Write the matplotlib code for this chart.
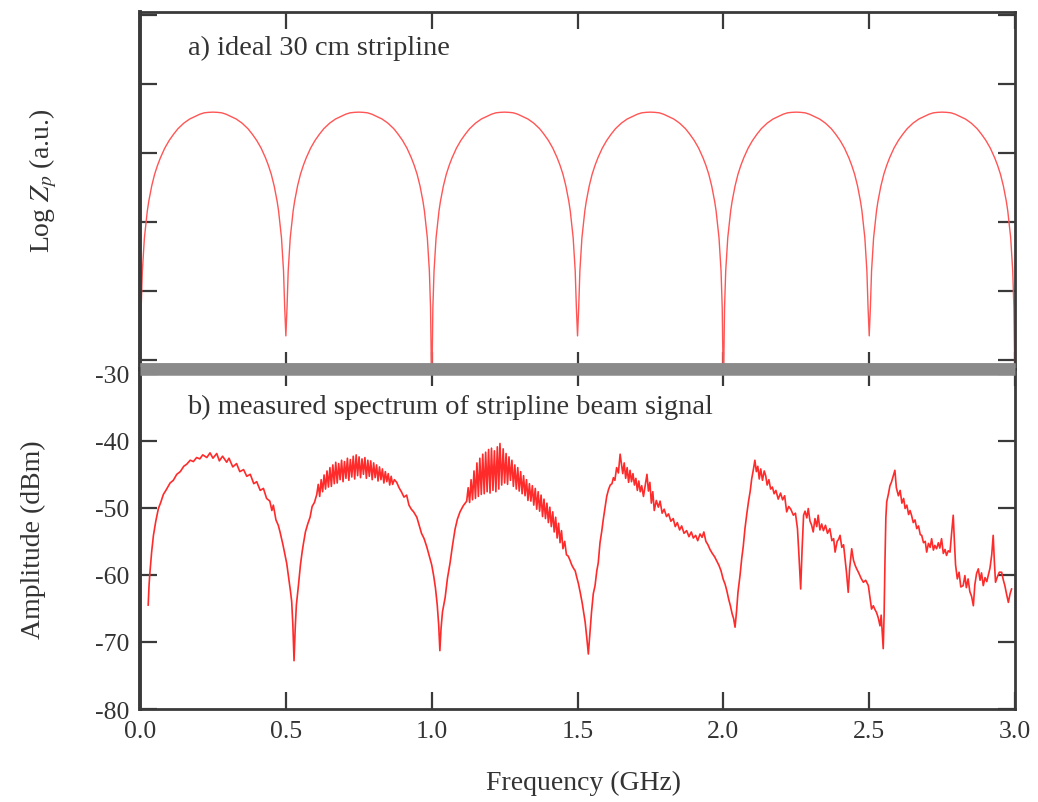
import matplotlib
matplotlib.use('Agg')
import matplotlib.pyplot as plt

plt.rcParams['font.family'] = ['Liberation Serif', 'DejaVu Serif']
plt.rcParams['mathtext.fontset'] = 'stix'

# x axis (GHz) and y ticks
freq_ticks = [0.0, 0.5, 1.0, 1.5, 2.0, 2.5, 3.0]
amp_ticks = [-30, -40, -50, -60, -70, -80]
top_ticks = [0, 1, 2, 3, 4, 5]

# a) ideal stripline, log Zp in arbitrary units, read off one lobe (every lobe is the same)
arch_starts = [0.0, 0.5, 1.0, 1.5, 2.0, 2.5]
arch_offsets = [0.004, 0.008, 0.015, 0.025, 0.03, 0.04, 0.05, 0.06, 0.07, 0.085, 0.1,
                0.115, 0.13, 0.15, 0.17, 0.19, 0.205, 0.22, 0.235, 0.25, 0.265, 0.28,
                0.295, 0.31, 0.33, 0.35, 0.37, 0.385, 0.4, 0.415, 0.43, 0.44, 0.45,
                0.46, 0.47, 0.475, 0.485, 0.492, 0.496]
arch_levels = [0.76, 1.29, 1.77, 2.16, 2.30, 2.52, 2.69, 2.82, 2.93, 3.07, 3.18,
               3.27, 3.35, 3.43, 3.49, 3.53, 3.56, 3.58, 3.587, 3.59, 3.587, 3.58,
               3.56, 3.53, 3.49, 3.43, 3.35, 3.27, 3.18, 3.07, 2.93, 2.82, 2.69,
               2.52, 2.30, 2.16, 1.77, 1.29, 0.76]
null_freq = [0.0, 0.5, 1.0, 1.5, 2.0, 2.5, 3.0]
null_level = [-0.5, 0.35, -0.5, 0.35, -0.5, 0.35, -0.5]

# b) measured spectrum (GHz, dBm), one list per lobe
lobe1 = [(0.028, -64.5), (0.031, -61.5), (0.034, -59.6), (0.040, -56.5), (0.046, -54.1),
         (0.054, -52.0), (0.063, -50.1), (0.071, -49.2), (0.080, -48.0), (0.090, -47.3),
         (0.103, -46.3), (0.114, -45.9), (0.126, -45.0), (0.138, -44.6), (0.150, -43.8),
         (0.160, -43.5), (0.172, -42.9), (0.183, -43.1), (0.194, -42.5), (0.205, -42.7),
         (0.215, -42.1), (0.229, -42.5), (0.240, -41.8), (0.250, -42.6), (0.263, -41.9),
         (0.272, -43.0), (0.283, -42.3), (0.297, -43.2), (0.305, -42.6), (0.318, -43.9),
         (0.331, -43.4), (0.342, -44.6), (0.355, -44.3), (0.366, -45.3), (0.378, -45.0),
         (0.390, -46.4), (0.400, -46.1), (0.412, -47.4), (0.423, -47.1), (0.434, -48.6),
         (0.445, -49.0), (0.452, -50.4), (0.457, -49.6), (0.466, -51.8), (0.474, -52.6),
         (0.480, -53.6), (0.490, -55.5), (0.497, -57.0), (0.503, -58.3), (0.510, -60.5),
         (0.516, -62.5), (0.520, -64.0), (0.524, -67.5), (0.528, -72.8)]
lobe2 = [(0.532, -68.0), (0.536, -64.5), (0.543, -61.6), (0.550, -58.5), (0.556, -56.5),
         (0.560, -55.4), (0.567, -53.6), (0.575, -52.4), (0.583, -51.4), (0.590, -49.8),
         (0.598, -49.2), (0.606, -48.0), (0.611, -46.5), (0.616, -48.3), (0.621, -45.8),
         (0.626, -47.6), (0.631, -45.1), (0.636, -47.2), (0.641, -44.5), (0.646, -46.9),
         (0.651, -44.0), (0.656, -46.8), (0.661, -43.6), (0.666, -46.4), (0.671, -43.2),
         (0.676, -46.3), (0.681, -43.4), (0.686, -45.8), (0.691, -42.9), (0.696, -46.1),
         (0.701, -43.1), (0.706, -45.6), (0.711, -42.6), (0.716, -45.9), (0.721, -42.8),
         (0.726, -45.4), (0.731, -42.3), (0.736, -45.7), (0.741, -42.1), (0.746, -45.2),
         (0.751, -42.4), (0.756, -45.5), (0.761, -42.7), (0.766, -45.0), (0.771, -42.5),
         (0.776, -45.6), (0.781, -42.9), (0.786, -45.3), (0.791, -43.0), (0.796, -45.8),
         (0.801, -43.3), (0.806, -45.5), (0.811, -43.6), (0.816, -46.0), (0.821, -43.9),
         (0.826, -45.8), (0.831, -44.2), (0.836, -46.3), (0.841, -44.6), (0.846, -46.1),
         (0.851, -44.9), (0.856, -46.6), (0.861, -45.3), (0.866, -46.5), (0.872, -45.8),
         (0.880, -46.2), (0.888, -47.0), (0.896, -47.6), (0.905, -48.4), (0.914, -48.1),
         (0.922, -49.6), (0.930, -50.2), (0.938, -50.6), (0.949, -51.4), (0.957, -52.6),
         (0.965, -53.8), (0.974, -54.6), (0.983, -55.8), (0.992, -57.2), (1.000, -58.5),
         (1.007, -60.2), (1.013, -62.0), (1.019, -64.5), (1.024, -67.5), (1.028, -71.3)]
lobe3 = [(1.032, -68.0), (1.037, -65.5), (1.046, -63.4), (1.054, -60.5), (1.063, -58.2),
         (1.071, -55.7), (1.080, -53.2), (1.088, -51.7), (1.097, -50.6), (1.108, -49.7),
         (1.120, -49.0), (1.125, -47.0), (1.130, -49.2), (1.135, -45.8), (1.140, -48.8),
         (1.145, -44.5), (1.150, -48.6), (1.155, -43.3), (1.160, -48.3), (1.165, -42.6),
         (1.170, -48.0), (1.175, -42.0), (1.180, -47.9), (1.185, -41.7), (1.190, -47.6),
         (1.195, -41.3), (1.200, -47.8), (1.205, -41.1), (1.210, -47.4), (1.215, -41.5),
         (1.220, -47.6), (1.225, -40.9), (1.230, -47.2), (1.234, -40.4), (1.240, -46.6),
         (1.245, -41.2), (1.250, -46.3), (1.255, -41.9), (1.260, -46.5), (1.265, -42.4),
         (1.270, -45.9), (1.275, -42.9), (1.280, -46.8), (1.285, -43.6), (1.290, -47.2),
         (1.295, -44.0), (1.300, -47.5), (1.305, -44.6), (1.310, -47.9), (1.315, -45.2),
         (1.320, -48.2), (1.325, -45.8), (1.330, -48.9), (1.335, -46.4), (1.340, -49.0),
         (1.345, -46.7), (1.350, -49.6), (1.355, -47.1), (1.360, -50.2), (1.365, -47.6),
         (1.370, -50.5), (1.375, -48.1), (1.380, -51.3), (1.385, -48.7), (1.390, -51.6),
         (1.395, -49.3), (1.400, -52.2), (1.405, -49.9), (1.410, -52.8), (1.415, -50.6),
         (1.420, -53.6), (1.425, -51.4), (1.430, -54.5), (1.435, -52.3), (1.440, -55.2),
         (1.445, -53.4), (1.450, -56.1), (1.456, -55.0), (1.462, -57.0), (1.468, -57.2),
         (1.474, -57.8), (1.480, -58.5), (1.486, -59.0), (1.492, -59.4), (1.497, -60.3),
         (1.503, -61.3), (1.510, -62.8), (1.516, -64.2), (1.520, -65.3), (1.526, -67.0),
         (1.532, -69.5), (1.537, -71.8)]
lobe4 = [(1.542, -69.0), (1.548, -65.5), (1.554, -62.8), (1.560, -61.6), (1.566, -59.4),
         (1.571, -58.2), (1.577, -55.2), (1.583, -53.5), (1.588, -51.8), (1.594, -50.0),
         (1.600, -48.3), (1.606, -47.3), (1.612, -46.6), (1.618, -46.4), (1.623, -45.5),
         (1.628, -45.9), (1.634, -44.0), (1.640, -44.8), (1.646, -42.0), (1.651, -43.6),
         (1.655, -44.9), (1.660, -43.3), (1.665, -45.6), (1.670, -44.0), (1.675, -46.2),
         (1.680, -44.4), (1.685, -46.1), (1.690, -44.9), (1.695, -46.6), (1.700, -45.6),
         (1.705, -47.4), (1.710, -46.0), (1.715, -47.6), (1.720, -46.7), (1.726, -48.3),
         (1.732, -46.6), (1.738, -45.0), (1.743, -47.5), (1.748, -46.2), (1.753, -49.3),
         (1.758, -47.6), (1.763, -50.4), (1.770, -48.9), (1.777, -49.9), (1.783, -49.0),
         (1.790, -50.8), (1.797, -50.2), (1.805, -51.3), (1.812, -50.9), (1.820, -52.0),
         (1.828, -51.6), (1.835, -52.8), (1.842, -52.2), (1.850, -53.3), (1.857, -52.7),
         (1.865, -53.8), (1.874, -53.4), (1.882, -54.3), (1.890, -53.6), (1.897, -54.5),
         (1.905, -54.1), (1.912, -54.9), (1.920, -53.9), (1.927, -54.4), (1.933, -53.6),
         (1.940, -55.0), (1.947, -55.5), (1.954, -56.2), (1.962, -56.8), (1.970, -57.3),
         (1.978, -58.0), (1.985, -58.6), (1.992, -59.4), (1.999, -60.6), (2.006, -61.4),
         (2.012, -62.4), (2.018, -63.6), (2.024, -64.6), (2.030, -65.8), (2.035, -66.5),
         (2.040, -67.8)]
lobe5 = [(2.045, -65.5), (2.050, -62.6), (2.057, -60.1), (2.063, -57.5), (2.068, -55.8),
         (2.074, -53.1), (2.080, -51.0), (2.086, -49.1), (2.092, -47.5), (2.097, -45.7),
         (2.102, -44.5), (2.108, -42.9), (2.113, -44.6), (2.118, -43.8), (2.123, -45.7),
         (2.128, -44.2), (2.134, -45.9), (2.140, -44.5), (2.145, -45.2), (2.150, -46.6),
         (2.156, -45.8), (2.162, -47.2), (2.168, -46.9), (2.174, -47.9), (2.180, -47.4),
         (2.188, -48.7), (2.196, -47.8), (2.203, -48.8), (2.210, -48.2), (2.217, -50.6),
         (2.224, -49.8), (2.231, -50.2), (2.240, -51.1), (2.247, -50.8), (2.254, -53.1),
         (2.259, -57.0), (2.265, -62.1), (2.270, -56.0), (2.275, -51.1), (2.280, -50.5),
         (2.286, -51.5), (2.291, -50.1), (2.297, -52.0), (2.302, -52.5), (2.308, -53.6),
         (2.314, -51.6), (2.320, -52.8), (2.325, -51.1), (2.331, -53.3), (2.337, -52.4),
         (2.343, -53.4), (2.350, -52.6), (2.357, -53.8), (2.365, -53.1), (2.372, -54.9),
         (2.378, -54.6), (2.383, -56.6), (2.390, -55.0), (2.395, -54.7), (2.400, -54.1),
         (2.406, -55.9), (2.412, -55.5), (2.417, -57.6), (2.422, -59.6), (2.428, -62.6),
         (2.433, -59.0), (2.440, -56.1), (2.446, -57.8), (2.452, -58.6), (2.457, -59.1),
         (2.464, -59.7), (2.472, -60.5), (2.480, -61.1), (2.488, -60.8), (2.497, -61.6),
         (2.503, -63.5), (2.508, -65.1), (2.514, -64.6), (2.520, -65.2), (2.525, -65.6),
         (2.531, -66.4), (2.537, -67.6), (2.541, -66.0), (2.545, -68.8), (2.548, -71.0)]
lobe6 = [(2.551, -66.0), (2.554, -58.0), (2.557, -51.5), (2.560, -49.1), (2.566, -47.9),
         (2.571, -46.7), (2.576, -46.2), (2.582, -45.3), (2.588, -44.4), (2.593, -47.0),
         (2.600, -48.2), (2.606, -47.4), (2.612, -49.3), (2.618, -48.6), (2.623, -50.1),
         (2.629, -49.6), (2.635, -51.0), (2.640, -50.4), (2.645, -51.1), (2.651, -52.2),
         (2.657, -51.8), (2.663, -53.1), (2.669, -52.7), (2.675, -54.0), (2.680, -54.1),
         (2.686, -55.2), (2.692, -55.0), (2.697, -56.6), (2.703, -55.3), (2.709, -55.9),
         (2.714, -54.6), (2.720, -56.3), (2.725, -55.6), (2.731, -56.1), (2.737, -55.2),
         (2.742, -56.0), (2.748, -54.6), (2.754, -56.8), (2.760, -56.2), (2.765, -57.1),
         (2.771, -56.4), (2.777, -56.6), (2.782, -54.0), (2.788, -51.1), (2.792, -55.0),
         (2.796, -58.5), (2.802, -60.6), (2.808, -59.6), (2.814, -61.8), (2.822, -61.6),
         (2.828, -60.1), (2.833, -61.9), (2.839, -60.6), (2.845, -62.5), (2.851, -63.2),
         (2.857, -64.6), (2.862, -61.5), (2.868, -59.8), (2.874, -59.1), (2.880, -60.8),
         (2.885, -59.7), (2.891, -61.6), (2.897, -60.4), (2.903, -61.0), (2.908, -60.1),
         (2.914, -59.0), (2.920, -57.0), (2.925, -54.1), (2.929, -58.0), (2.933, -61.1),
         (2.940, -60.2), (2.946, -59.6), (2.954, -59.6), (2.960, -60.8), (2.965, -61.6),
         (2.971, -62.9), (2.977, -64.1), (2.983, -62.8), (2.988, -62.1)]

# ---- build the ideal curve from the read lobe
ideal_f = []
ideal_z = []
for i, start in enumerate(arch_starts):
    ideal_f.append(null_freq[i])
    ideal_z.append(null_level[i])
    for off, lev in zip(arch_offsets, arch_levels):
        ideal_f.append(start + off)
        ideal_z.append(lev)
ideal_f.append(null_freq[-1])
ideal_z.append(null_level[-1])

spec = lobe1 + lobe2 + lobe3 + lobe4 + lobe5 + lobe6
spec_f = [p[0] for p in spec]
spec_a = [p[1] for p in spec]

txt = '#333333'
spine_c = '#3a3a3a'

fig = plt.figure(figsize=(10.38, 8.03), dpi=100)
ax1 = fig.add_axes([0.1349, 0.5392, 0.843, 0.4446])
ax2 = fig.add_axes([0.1349, 0.1158, 0.843, 0.4234])

ax1.plot(ideal_f, ideal_z, color='#ff5555', lw=1.0)
ax1.set_xlim(0, 3)
ax1.set_ylim(-0.13, 5.04)
ax1.set_xticks(freq_ticks)
ax1.set_yticks(top_ticks)
ax1.tick_params(labelbottom=False, labelleft=False)
ax1.text(0.055, 0.902, 'a) ideal 30 cm stripline', transform=ax1.transAxes,
         fontsize=20.5, color=txt, va='center', ha='left')

ax2.plot(spec_f, spec_a, color='#ff2a2a', lw=1.2)
ax2.set_xlim(0, 3)
ax2.set_ylim(-80, -29.3)
ax2.set_xticks(freq_ticks)
ax2.set_xticklabels(['%.1f' % f for f in freq_ticks])
ax2.set_yticks(amp_ticks)
ax2.set_yticklabels([str(a) for a in amp_ticks])
ax2.text(0.054, 0.891, 'b) measured spectrum of stripline beam signal', transform=ax2.transAxes,
         fontsize=20.5, color=txt, va='center', ha='left')

for ax in (ax1, ax2):
    ax.tick_params(direction='in', length=12, width=1.6, color=spine_c,
                   top=True, right=True, labelsize=18.5, labelcolor=txt, pad=8)
    for s in ax.spines.values():
        s.set_color(spine_c)
        s.set_linewidth(2.0)
    ax.spines['left'].set_linewidth(2.8)

# thick grey seam between the two panels
ax1.spines['bottom'].set_color('#8a8a8a')
ax1.spines['bottom'].set_linewidth(9)
ax1.spines['bottom'].set_capstyle('butt')
ax2.spines['top'].set_color('#8a8a8a')
ax2.spines['top'].set_linewidth(9)
ax2.spines['top'].set_capstyle('butt')

fig.text(43 / 1038, 1 - 181 / 803, 'Log $Z_p$ (a.u.)', rotation=90, ha='center', va='center',
         fontsize=20, color=txt)
fig.text(33 / 1038, 1 - 540 / 803, 'Amplitude (dBm)', rotation=90, ha='center', va='center',
         fontsize=20, color=txt)
fig.text(583 / 1038, 1 - 783 / 803, 'Frequency (GHz)', ha='center', va='center',
         fontsize=20, color=txt)

fig.savefig('out.png', dpi=100)
